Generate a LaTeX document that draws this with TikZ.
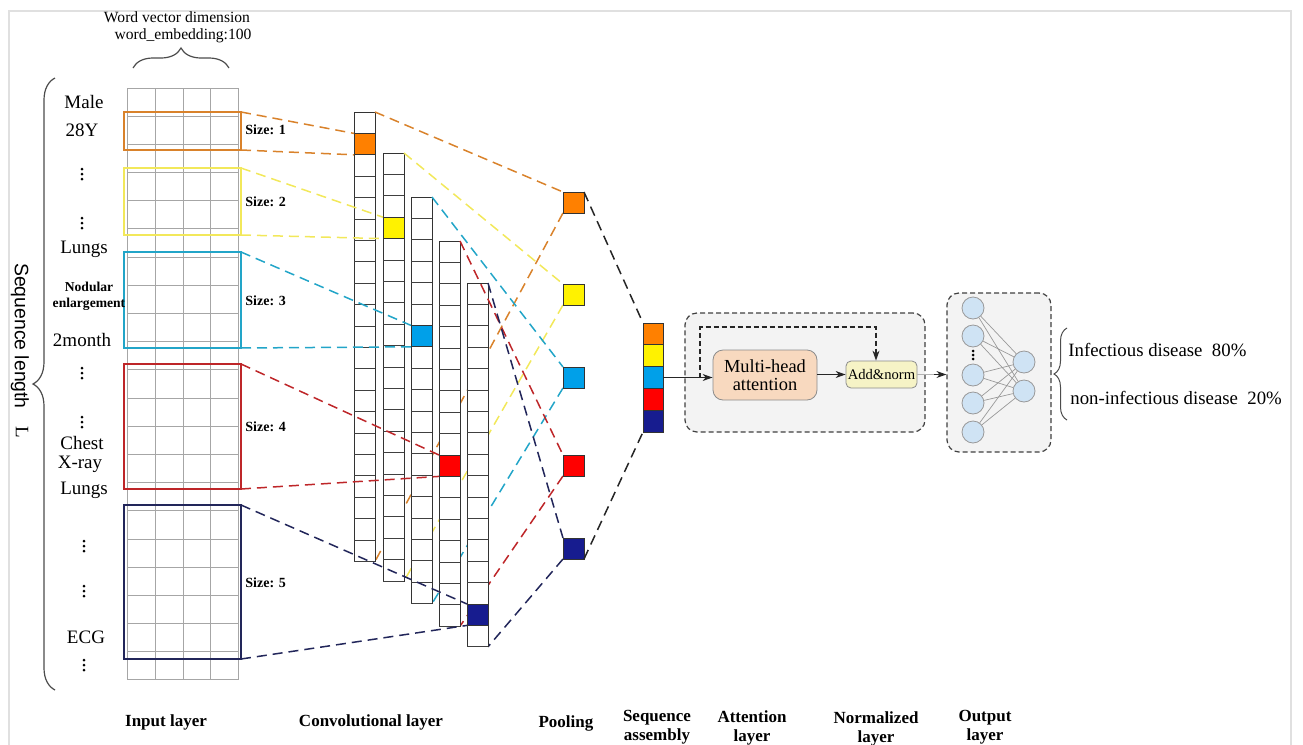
\documentclass[tikz,border=0pt]{standalone}
\usepackage{fontspec}
\setmainfont{Liberation Serif}
\setsansfont{Liberation Sans}
\usetikzlibrary{arrows.meta,decorations.pathreplacing,backgrounds}

\definecolor{fOrange}{HTML}{FF8000}
\definecolor{lOrange}{HTML}{D9822B}
\definecolor{fYellow}{HTML}{FFF200}
\definecolor{lYellow}{HTML}{F2E85A}
\definecolor{fBlue}{HTML}{00A0E9}
\definecolor{lBlue}{HTML}{22A5C8}
\definecolor{fRed}{HTML}{FF0000}
\definecolor{lRed}{HTML}{BE2629}
\definecolor{fNavy}{HTML}{171C8F}
\definecolor{lNavy}{HTML}{22265A}
\definecolor{panelgray}{HTML}{F3F3F3}
\definecolor{mhafill}{HTML}{F8D9BF}
\definecolor{addfill}{HTML}{F6F3C6}
\definecolor{neuronfill}{HTML}{CFE3F4}

% three vertical dots at (x,y), gap in px
\newcommand{\vdotsat}[3]{\foreach \d in {-#3,0,#3} \fill (#1,{#2+\d}) circle [radius=0.75pt];}

\begin{document}
\begin{tikzpicture}[x=0.5pt, y=-0.5pt,
    gridline/.style={draw=black!35, line width=0.5pt},
    sel/.style={draw, line width=0.8pt, inner sep=0pt, outer sep=0pt, anchor=north west, minimum width=58.5pt},
    conv/.style={draw=black!80, fill=white, line width=0.5pt, inner sep=0pt, outer sep=0pt, anchor=north west, minimum width=10.5pt},
    cellline/.style={draw=black!75, line width=0.5pt},
    cell/.style={draw=black!80, line width=0.5pt, inner sep=0pt, outer sep=0pt, anchor=north west, minimum width=10.5pt, minimum height=10.7pt},
    pool/.style={draw=black!80, line width=0.5pt, inner sep=0pt, outer sep=0pt, anchor=north west, minimum size=10.5pt},
    seqcell/.style={draw=black!80, line width=0.5pt, inner sep=0pt, outer sep=0pt, anchor=north west, minimum width=10pt, minimum height=10.9pt},
    link/.style={dash pattern=on 5pt off 3pt, line width=0.75pt},
    panel/.style={draw=black!75, dash pattern=on 2.5pt off 1.5pt, line width=0.6pt, fill=panelgray, rounded corners=6pt, inner sep=0pt},
    neuron/.style={circle, draw=black!40, fill=neuronfill, line width=0.4pt, minimum size=11pt, inner sep=0pt},
    syn/.style={draw=black!40, line width=0.35pt},
    brc/.style={decorate, draw=black!70, line width=0.6pt},
    rowlab/.style={font=\fontsize{9.5}{10}\selectfont, inner sep=0pt},
    sizelab/.style={font=\bfseries\fontsize{7}{8}\selectfont, anchor=west, inner sep=0pt},
    layerlab/.style={font=\bfseries\fontsize{8.5}{9.5}\selectfont, align=center, inner sep=0pt},
    >={Stealth[length=5pt, width=3.5pt]}]
\useasboundingbox (0,0) rectangle (1303,745);

% frame
\draw[black!12, line width=0.6pt] (9,760) -- (9,11) -- (1291,11) -- (1291,760);

% input layer
\foreach \x in {127,155,183,210,238} \draw[gridline] (\x,88) -- (\x,680);
\foreach \k in {0,...,21} \draw[gridline] (127,{88+28.19*\k}) -- (238,{88+28.19*\k});

\node[sel, draw=lOrange, minimum height=19pt] (in1) at (124,112) {};
\node[sel, draw=lYellow, minimum height=33.5pt] (in2) at (124,168) {};
\node[sel, draw=lBlue, minimum height=48pt] (in3) at (124,252) {};
\node[sel, draw=lRed, minimum height=62.5pt] (in4) at (124,364) {};
\node[sel, draw=lNavy, minimum height=77pt] (in5) at (124,505) {};

\node[sizelab] (sz1) at (245,130) {Size: 1};
\node[sizelab] (sz2) at (245,202) {Size: 2};
\node[sizelab] (sz3) at (245,301) {Size: 3};
\node[sizelab] (sz4) at (245,427) {Size: 4};
\node[sizelab] (sz5) at (245,583) {Size: 5};

% word vector dimension
\node[font=\fontsize{7.8}{8.6}\selectfont, align=center, inner sep=0pt] (wvd) at (177,27) {Word vector dimension\\\hspace*{6pt}word\_embedding:100};
\draw[brc, decoration={brace, amplitude=10pt}] (133,68) -- (229,68);

% sequence length
\draw[brc, decoration={brace, amplitude=11pt}] (55,690) -- (55,78);
\node[font=\sffamily\fontsize{9.7}{10}\selectfont, rotate=-90, inner sep=0pt] (seqlen) at (20,336) {Sequence length};
\node[font=\fontsize{9.5}{10}\selectfont, rotate=-90, inner sep=0pt] (seqL) at (22,432) {L};

% tokens
\node[rowlab] (t1) at (84,102) {Male};
\node[rowlab] (t2) at (82,130) {28Y};
\vdotsat{82}{174}{5}
\vdotsat{82}{223}{5}
\node[rowlab] (t5) at (84,249) {Lungs};
\node[font=\bfseries\fontsize{6.8}{8}\selectfont, align=center, inner sep=0pt] (t6) at (89,296) {Nodular\\enlargement};
\node[rowlab] (t7) at (82,340) {2month};
\vdotsat{82}{373}{5}
\vdotsat{82}{422}{5}
\node[rowlab] (t10) at (82,443) {Chest};
\node[rowlab] (t11) at (80,464) {X-ray};
\node[rowlab] (t12) at (84,490) {Lungs};
\vdotsat{84}{546}{5}
\vdotsat{84}{591}{5}
\node[rowlab] (t15) at (86,637) {ECG};
\vdotsat{84}{665}{5}

% convolutional layer
\foreach \i/\x/\t/\n/\k/\c in {1/354/112/21/1/fOrange, 2/383/153/20/3/fYellow, 3/411/197/19/6/fBlue, 4/439/241/18/10/fRed, 5/467/283/17/15/fNavy}{
  \node[conv, minimum height={\n*10.7pt}] (col\i) at (\x,\t) {};
  \foreach \r in {1,...,\n} \draw[cellline] (\x,{\t+21.4*\r}) -- ++(21,0);
  \node[cell, fill=\c] (cc\i) at (\x,{\t+21.4*\k}) {};
}

% filter size -> feature
\draw[link, lOrange] (in1.north east) -- (cc1.north west);
\draw[link, lOrange] (in1.south east) -- (cc1.south west);
\draw[link, lYellow] (in2.north east) -- (cc2.north west);
\draw[link, lYellow] (in2.south east) -- (cc2.south west);
\draw[link, lBlue] (in3.north east) -- (cc3.north west);
\draw[link, lBlue] (in3.south east) -- (cc3.south west);
\draw[link, lRed] (in4.north east) -- (cc4.north west);
\draw[link, lRed] (in4.south east) -- (cc4.south west);
\draw[link, lNavy] (in5.north east) -- (cc5.north west);
\draw[link, lNavy] (in5.south east) -- (cc5.south west);

% pooling
\node[pool, fill=fOrange] (p1) at (563,192) {};
\node[pool, fill=fYellow] (p2) at (563,284) {};
\node[pool, fill=fBlue] (p3) at (563,367) {};
\node[pool, fill=fRed] (p4) at (563,455) {};
\node[pool, fill=fNavy] (p5) at (563,538) {};

\draw[link, lOrange] (col1.north east) -- (p1.north west);
\draw[link, lYellow] (col2.north east) -- (p2.north west);
\draw[link, lBlue] (col3.north east) -- (p3.north west);
\draw[link, lRed] (col4.north east) -- (p4.north west);
\draw[link, lNavy] (col5.north east) -- (p5.north west);
\begin{pgfonlayer}{background}
\draw[link, lOrange] (p1.south west) -- (col1.south east);
\draw[link, lYellow] (p2.south west) -- (col2.south east);
\draw[link, lBlue] (p3.south west) -- (col3.south east);
\draw[link, lRed] (p4.south west) -- (col4.south east);
\draw[link, lNavy] (p5.south west) -- (col5.south east);
\end{pgfonlayer}

% sequence assembly
\foreach \i/\c in {1/fOrange, 2/fYellow, 3/fBlue, 4/fRed, 5/fNavy}
  \node[seqcell, fill=\c] (s\i) at (643,{323+21.8*(\i-1)}) {};
\draw[link, black!85] (p1.north east) -- (s1.north west);
\draw[link, black!85] (p5.south east) -- (s5.south west);

% attention layer
\node[panel, minimum width=120pt, minimum height=59.5pt] (att) at (805,372.5) {};
\node[draw=black!45, fill=mhafill, rounded corners=5pt, minimum width=52pt, minimum height=25pt, inner sep=0pt, align=center, font=\fontsize{9.2}{9.3}\selectfont] (mha) at (765,375) {Multi-head\\attention};
\node[draw=black!45, fill=addfill, rounded corners=2.5pt, minimum width=35.5pt, minimum height=13.5pt, inner sep=0pt, font=\fontsize{7.3}{8}\selectfont] (addn) at (881.5,374.5) {Add\&norm};

\coordinate (resin) at (700,377.5);
\coordinate (restop) at (876,327);
\draw[->, black!85, line width=0.6pt] (s3.east) -- (s3.east -| mha.west);
\draw[->, black!85, line width=0.6pt, dash pattern=on 2.5pt off 1.5pt] (resin) |- (restop) -- (restop |- addn.north);
\draw[->, black!85, line width=0.6pt] (mha.east |- addn.west) -- (addn.west);

% output layer
\node[panel, minimum width=52pt, minimum height=79.5pt] (out) at (999,372.5) {};
\draw[black!30, line width=0.6pt] (addn.east) -- (out.west |- addn.east);
\draw[->, black!85, line width=0.6pt] ([xshift=-6pt]out.west |- addn.east) -- (out.west |- addn.east);
\foreach \i/\y in {1/308, 2/336, 3/375, 4/403, 5/432} \node[neuron] (o\i) at (973,\y) {};
\node[neuron] (r1) at (1024,362) {};
\node[neuron] (r2) at (1024,391) {};
\foreach \i in {1,...,5} \foreach \j in {1,2} \draw[syn] (o\i) -- (r\j);
\vdotsat{973}{355}{4}

\draw[brc, line width=0.5pt, decoration={brace, amplitude=6.5pt}] (1067,420) -- (1067,328);
\node[font=\fontsize{9.4}{10}\selectfont, anchor=west, inner sep=0pt] (res1) at (1068,350) {Infectious disease\ \ 80\%};
\node[font=\fontsize{9.4}{10}\selectfont, anchor=west, inner sep=0pt] (res2) at (1070,398) {non-infectious disease\ \ 20\%};

% layer names
\node[layerlab] (lb1) at (166,722) {Input layer};
\node[layerlab] (lb2) at (371,722) {Convolutional layer};
\node[layerlab] (lb3) at (566,723) {Pooling};
\node[layerlab] (lb4) at (657,727) {Sequence\\assembly};
\node[layerlab] (lb5) at (752,728) {Attention\\layer};
\node[layerlab] (lb6) at (876,729) {Normalized\\layer};
\node[layerlab] (lb7) at (985,727) {Output\\layer};
\end{tikzpicture}
\end{document}
